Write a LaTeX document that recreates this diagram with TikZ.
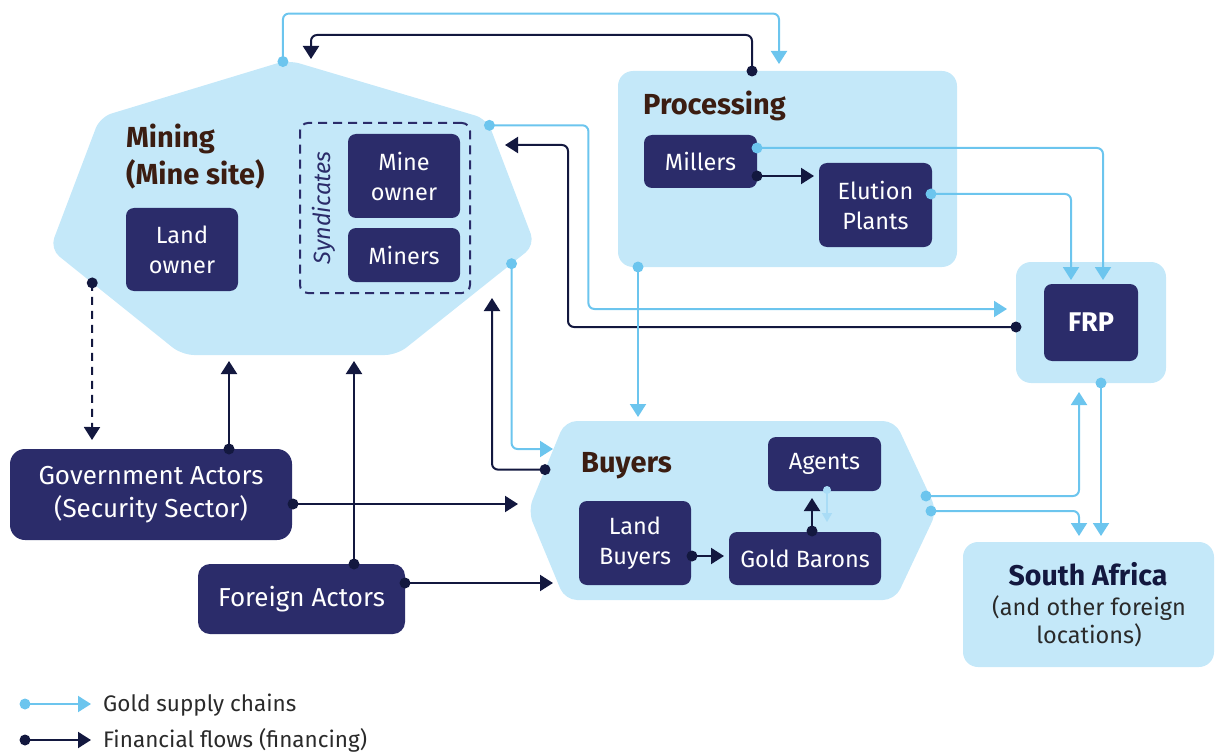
\documentclass[tikz,border=0pt]{standalone}
\usepackage{fontspec}
\setmainfont{Fira Sans}
\usetikzlibrary{arrows.meta,calc,decorations.markings}
\definecolor{lightfill}{HTML}{C4E8F9}
\definecolor{boxfill}{HTML}{2B2C6A}
\definecolor{goldline}{HTML}{6CC5EE}
\definecolor{finline}{HTML}{13183F}
\definecolor{headcol}{HTML}{3B1D12}
\definecolor{palecol}{HTML}{A9DCF6}
\definecolor{legtext}{HTML}{2A2A2A}
\begin{document}
\begin{tikzpicture}[x=1pt,y=-1pt,
  darkbox/.style={fill=boxfill, rounded corners=8pt, text=white, align=center, inner sep=0pt, font=\fontsize{23.5}{30}\selectfont},
  bigbox/.style={darkbox, rounded corners=15pt, font=\fontsize{26}{33}\selectfont},
  lightbox/.style={fill=lightfill, rounded corners=15pt, inner sep=0pt},
  heading/.style={font=\bfseries\fontsize{29}{37}\selectfont, text=headcol, inner sep=0pt},
  flow/.style={line width=2pt, rounded corners=6pt, -{Triangle[length=13pt,width=16pt]}, postaction={decorate}, decoration={markings, mark=at position 0 with {\fill circle (5.5pt);}}},
  gold/.style={flow, color=goldline},
  fin/.style={flow, color=finline},
  pale/.style={line width=1.5pt, color=palecol, -{Triangle[length=9pt,width=10pt]}, postaction={decorate}, decoration={markings, mark=at position 0 with {\fill circle (4pt);}}},
]
\useasboundingbox (0,0) rectangle (1215,754);

% ---------- Mining (heptagon) ----------
\coordinate (mT) at (288,60);
\coordinate (mUR) at (487,119);
\coordinate (mRt) at (535,245);
\coordinate (mLR) at (397,355);
\coordinate (mLL) at (182,355);
\coordinate (mLt) at (50,249);
\coordinate (mUL) at (100,117);
\fill[lightfill, rounded corners=12pt] ($(mT)!0.5!(mUR)$) -- (mUR) -- (mRt) -- (mLR) -- (mLL) -- (mLt) -- (mUL) -- (mT) -- cycle;
\node[heading, anchor=base west] (minhead1) at (126,148) {Mining};
\node[heading, anchor=base west] (minhead2) at (126,185) {(Mine site)};
\node[darkbox, minimum width=112, minimum height=83] (landown) at (182,249.5) {Land\\owner};
\node[draw=boxfill, line width=2pt, dash pattern=on 9pt off 6pt, rounded corners=8pt, minimum width=170, minimum height=170, inner sep=0pt] (synd) at (385,208) {};
\node[rotate=90, font=\itshape\fontsize{23.5}{28}\selectfont, text=boxfill, inner sep=0pt] (syndlab) at (324,208) {Syndicates};
\node[darkbox, minimum width=112, minimum height=84] (mineown) at (404,176) {Mine\\owner};
\node[darkbox, minimum width=112, minimum height=54] (miners) at (404,255) {Miners};

% ---------- Processing ----------
\node[lightbox, minimum width=339, minimum height=196] (proc) at (787.5,169) {};
\node[heading, anchor=base west] (prochead) at (643,115) {Processing};
\node[darkbox, minimum width=113, minimum height=53] (millers) at (700.5,161.5) {Millers};
\node[darkbox, minimum width=113, minimum height=84] (elution) at (875.5,205) {Elution\\Plants};

% ---------- FRP ----------
\node[lightbox, minimum width=150, minimum height=121] (frpo) at (1091,322.5) {};
\node[darkbox, minimum width=94, minimum height=77, font=\bfseries\fontsize{27}{32}\selectfont] (frp) at (1091,322.5) {FRP};

% ---------- Buyers (hexagon) ----------
\coordinate (bL) at (528,511);
\coordinate (bTL) at (565,421);
\coordinate (bTR) at (895,421);
\coordinate (bR) at (937,511);
\coordinate (bBR) at (895,600);
\coordinate (bBL) at (565,600);
\fill[lightfill, rounded corners=12pt] ($(bTL)!0.5!(bTR)$) -- (bTR) -- (bR) -- (bBR) -- (bBL) -- (bL) -- (bTL) -- cycle;
\node[heading, anchor=base west] (buyhead) at (581,472) {Buyers};
\node[darkbox, minimum width=113, minimum height=54] (agents) at (824.5,464) {Agents};
\node[darkbox, minimum width=112, minimum height=84] (landbuy) at (635,543) {Land\\Buyers};
\node[darkbox, minimum width=152, minimum height=53] (goldbar) at (805,558.5) {Gold Barons};

% ---------- South Africa ----------
\node[lightbox, minimum width=251, minimum height=125] (sa) at (1088.5,604.5) {};
\node[anchor=base, inner sep=0pt, font=\bfseries\fontsize{28.5}{34}\selectfont, text=finline] (sahead) at (1088,585) {South Africa};
\node[anchor=base, inner sep=0pt, font=\fontsize{23.5}{29}\selectfont, text=legtext] (sa2) at (1089,615) {(and other foreign};
\node[anchor=base, inner sep=0pt, font=\fontsize{23.5}{29}\selectfont, text=legtext] (sa3) at (1089,643) {locations)};

% ---------- Actors ----------
\node[bigbox, minimum width=282, minimum height=91] (gov) at (151,494.5) {Government Actors\\(Security Sector)};
\node[bigbox, rounded corners=12pt, minimum width=207, minimum height=70] (foreign) at (301.5,599) {Foreign Actors};

% ---------- ports ----------
\coordinate (mTopP) at ($(mT)!0.027!(mUL)$);
\coordinate (mURP) at ($(mUR)!0.05!(mRt)$);
\coordinate (mRP) at ($(mRt)!0.17!(mLR)$);
\coordinate (mLP) at ($(mLt)!0.32!(mLL)$);
\coordinate (mIn1) at (311,59);
\coordinate (mIn2) at (505,145);
\coordinate (mIn3) at (492,298);
\coordinate (mIn4) at (229,361);
\coordinate (mIn5) at (354,361);
\coordinate (procTopP) at (752,71);
\coordinate (procIn) at (779,64);
\coordinate (procBP) at (638,267);
\coordinate (millR1) at (757,148);
\coordinate (millR2) at (757,176);
\coordinate (eluIn) at (814,176);
\coordinate (eluR) at (931,194);
\coordinate (frpIn1) at (1007,309);
\coordinate (frpLP) at (1016,327);
\coordinate (frpIn2) at (1103,280);
\coordinate (frpIn3) at (1071,280);
\coordinate (frpIn4) at (1079,392);
\coordinate (frpBP) at (1101,383);
\coordinate (saIn1) at (1101,536);
\coordinate (saIn2) at (1079,536);
\coordinate (bIn1) at (553,449);
\coordinate (bLP) at ($(bTL)!0.54!(bL)$);
\coordinate (bIn2) at (518,504);
\coordinate (bIn3) at (553,583);
\coordinate (bIn4) at (638,417);
\coordinate (bR1) at (926,496);
\coordinate (bR2) at (931,511);
\coordinate (govTopP) at (229,449);
\coordinate (govRP) at (293,504);
\coordinate (govIn) at (92,440);
\coordinate (forTopP) at (354,564);
\coordinate (forRP) at (405,583);
\coordinate (gbTopP) at (812,531);
\coordinate (agIn) at (812,498);
\coordinate (agBP) at (827,490);
\coordinate (gbPale) at (827,522);
\coordinate (lbRP) at (692,556);
\coordinate (gbIn) at (724,556);

% ---------- connectors ----------
\draw[gold] (mTopP) -- ++(0,-48) -| (procIn);
\draw[fin] (procTopP) -- ++(0,-36) -| (mIn1);
\draw[gold] (mURP) -- ++(99,0) |- (frpIn1);
\draw[fin] (frpLP) -- ++(-448,0) |- (mIn2);
\draw[gold] (mRP) |- (bIn1);
\draw[fin] (bLP) -| (mIn3);
\draw[fin] (govTopP) -- (mIn4);
\draw[fin] (forTopP) -- (mIn5);
\draw[fin, dashed, dash pattern=on 8pt off 6pt] (mLP) -- (govIn);
\draw[fin] (govRP) -- (bIn2);
\draw[fin] (forRP) -- (bIn3);
\draw[gold] (procBP) -- (bIn4);
\draw[gold] (millR1) -| (frpIn2);
\draw[gold] (eluR) -| (frpIn3);
\draw[fin] (millR2) -- (eluIn);
\draw[gold] (frpBP) -- (saIn1);
\draw[gold] (bR1) -| (frpIn4);
\draw[gold] (bR2) -| (saIn2);
\draw[fin] (gbTopP) -- (agIn);
\draw[pale] (agBP) -- (gbPale);
\draw[fin] (lbRP) -- (gbIn);

% ---------- legend ----------
\coordinate (lg1s) at (25,704);
\coordinate (lg1e) at (91,704);
\coordinate (lg2s) at (25,740);
\coordinate (lg2e) at (91,740);
\draw[gold] (lg1s) -- (lg1e);
\draw[fin] (lg2s) -- (lg2e);
\node[anchor=base west, inner sep=0pt, font=\fontsize{22.5}{27}\selectfont, text=legtext] (lgt1) at (103,711) {Gold supply chains};
\node[anchor=base west, inner sep=0pt, font=\fontsize{22.5}{27}\selectfont, text=legtext] (lgt2) at (103,747) {Financial flows (financing)};
\end{tikzpicture}
\end{document}
